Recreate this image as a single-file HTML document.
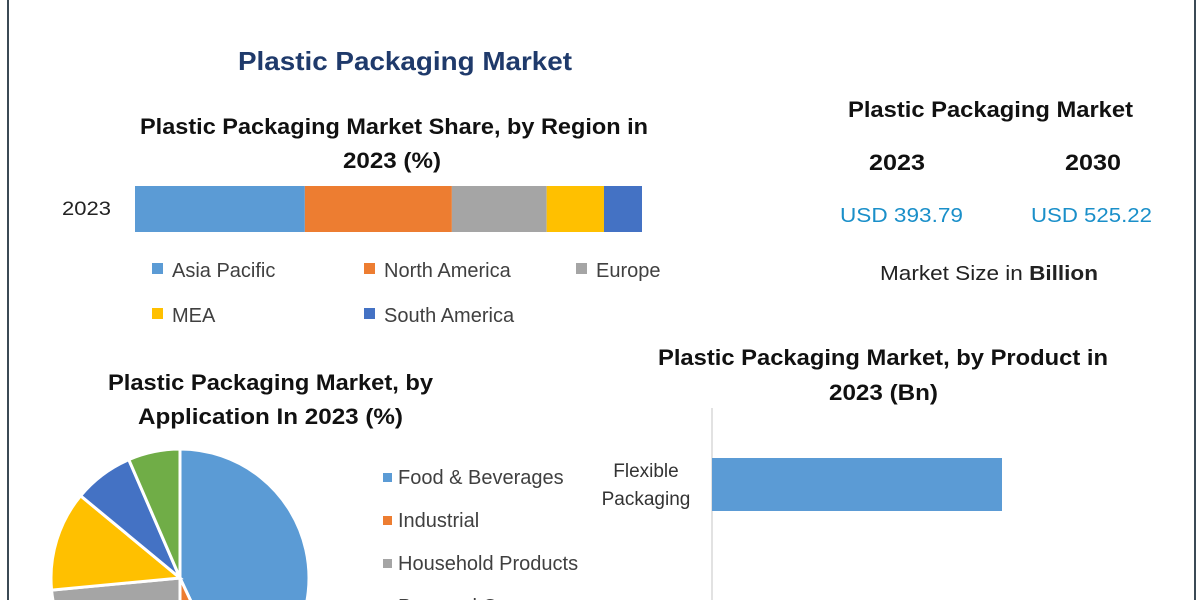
<!DOCTYPE html>
<html><head><meta charset="utf-8"><style>
html,body{margin:0;padding:0;background:#fff;width:1200px;height:600px;overflow:hidden;}
svg{display:block;font-family:"Liberation Sans",sans-serif;overflow:hidden;}
</style></head><body>
<svg id="c" width="1200" height="600" viewBox="0 0 1200 600" xmlns="http://www.w3.org/2000/svg">
<rect x="0" y="0" width="1200" height="600" fill="#fff"/>
<line x1="8" y1="0" x2="8" y2="600" stroke="#3b4a55" stroke-width="2"/>
<line x1="1195" y1="0" x2="1195" y2="600" stroke="#3b4a55" stroke-width="2"/>
<text x="238" y="70" font-size="26" font-weight="bold" fill="#1f3a6b" textLength="334" lengthAdjust="spacingAndGlyphs">Plastic Packaging Market</text>

<text x="140" y="134" font-size="22" font-weight="bold" fill="#111" textLength="508" lengthAdjust="spacingAndGlyphs">Plastic Packaging Market Share, by Region in</text>
<text x="343" y="168" font-size="22" font-weight="bold" fill="#111" textLength="98" lengthAdjust="spacingAndGlyphs">2023 (%)</text>
<text x="62" y="215" font-size="19" fill="#222" textLength="49" lengthAdjust="spacingAndGlyphs">2023</text>
<g id="regionBars"></g>
<g id="regionLegend"></g>

<text x="848" y="117" font-size="22" font-weight="bold" fill="#111" textLength="285" lengthAdjust="spacingAndGlyphs">Plastic Packaging Market</text>
<text x="869" y="170" font-size="22" font-weight="bold" fill="#111" textLength="56" lengthAdjust="spacingAndGlyphs">2023</text>
<text x="1065" y="170" font-size="22" font-weight="bold" fill="#111" textLength="56" lengthAdjust="spacingAndGlyphs">2030</text>
<text x="840" y="222" font-size="20" fill="#1a8fc9" textLength="123" lengthAdjust="spacingAndGlyphs">USD 393.79</text>
<text x="1031" y="222" font-size="20" fill="#1a8fc9" textLength="121" lengthAdjust="spacingAndGlyphs">USD 525.22</text>
<text x="880" y="280" font-size="20" fill="#222" textLength="218" lengthAdjust="spacingAndGlyphs">Market Size in <tspan font-weight="bold">Billion</tspan></text>

<text x="658" y="365" font-size="22" font-weight="bold" fill="#111" textLength="450" lengthAdjust="spacingAndGlyphs">Plastic Packaging Market, by Product in</text>
<text x="829" y="400" font-size="22" font-weight="bold" fill="#111" textLength="109" lengthAdjust="spacingAndGlyphs">2023 (Bn)</text>
<line x1="712" y1="408" x2="712" y2="600" stroke="#d9d9d9" stroke-width="1.5"/>
<g id="productBars"></g>

<text x="108" y="390" font-size="22" font-weight="bold" fill="#111" textLength="325" lengthAdjust="spacingAndGlyphs">Plastic Packaging Market, by</text>
<text x="138" y="424" font-size="22" font-weight="bold" fill="#111" textLength="265" lengthAdjust="spacingAndGlyphs">Application In 2023 (%)</text>
<g id="pie"></g>
<g id="pieLegend"></g>
</svg>
<script>
const regionNames = ["Asia Pacific","North America","Europe","MEA","South America"];
const regionValues = [33.5, 29, 18.7, 11.3, 7.5];
const regionColors = ["#5b9bd5","#ed7d31","#a5a5a5","#ffc000","#4472c4"];
const productNames = ["Flexible Packaging"];
const productValues = [290];
const appNames = ["Food & Beverages","Industrial","Household Products","Personal Care"];
const appValues = [43, 7, 23.5, 12.5, 7.5, 6.5];
const appColors = ["#5b9bd5","#ed7d31","#a5a5a5","#ffc000","#4472c4","#70ad47"];

const NS = "http://www.w3.org/2000/svg";
function mk(tag, attrs, parent){const e=document.createElementNS(NS,tag);for(const k in attrs)e.setAttribute(k,attrs[k]);parent.appendChild(e);return e;}

const rx0=135, rScale=507/100;
const xR = v => v*rScale;
let acc=0;
const rb=document.getElementById('regionBars');
regionValues.forEach((v,i)=>{
  const r=mk('rect',{x:rx0+xR(acc),y:186,width:xR(v),height:46,fill:regionColors[i]},rb);
  
  
  acc+=v;
});
const rl=document.getElementById('regionLegend');
const legPos=[[152,270],[364,270],[576,270],[152,315],[364,315]];
regionNames.forEach((n,i)=>{
  const g=mk('g',{},rl);
  
  
  mk('rect',{x:legPos[i][0],y:legPos[i][1]-7,width:11,height:11,fill:regionColors[i]},g);
  const t=mk('text',{x:legPos[i][0]+20,y:legPos[i][1]+7,'font-size':20,fill:'#404040'},g);
  t.textContent=n;
});

const pb=document.getElementById('productBars');
const xP = v => v*1;
productValues.forEach((v,i)=>{
  const r=mk('rect',{x:712,y:458,width:xP(v),height:53,fill:'#5b9bd5'},pb);
  
  
  const parts=productNames[i].split(' ');
  const t1=mk('text',{x:646,y:477,'font-size':19,fill:'#333','text-anchor':'middle'},pb);
  
  
  t1.textContent=parts[0];
  const t2=mk('text',{x:646,y:505,'font-size':19,fill:'#333','text-anchor':'middle'},pb);
  t2.textContent=parts[1];
});

const pg=document.getElementById('pie');
const cx=180, cy=578, R=129;
const total=appValues.reduce((a,b)=>a+b,0);
let ang=0;
appValues.forEach((v,i)=>{
  const a0=ang/total*2*Math.PI, a1=(ang+v)/total*2*Math.PI;
  const x0=cx+R*Math.sin(a0), y0=cy-R*Math.cos(a0), x1=cx+R*Math.sin(a1), y1=cy-R*Math.cos(a1);
  const large=(a1-a0)>Math.PI?1:0;
  const p=mk('path',{d:`M${cx},${cy} L${x0},${y0} A${R},${R} 0 ${large} 1 ${x1},${y1} Z`,fill:appColors[i],stroke:'#fff','stroke-width':3},pg);
  
  
  ang+=v;
});
const pl=document.getElementById('pieLegend');
appNames.forEach((n,i)=>{
  const y=483+i*43;
  const g=mk('g',{},pl);
  
  
  mk('rect',{x:383,y:y-10,width:9,height:9,fill:appColors[i]},g);
  const t=mk('text',{x:398,y:y+1,'font-size':20,fill:'#404040'},g);
  t.textContent=n;
});
</script>
</body></html>
